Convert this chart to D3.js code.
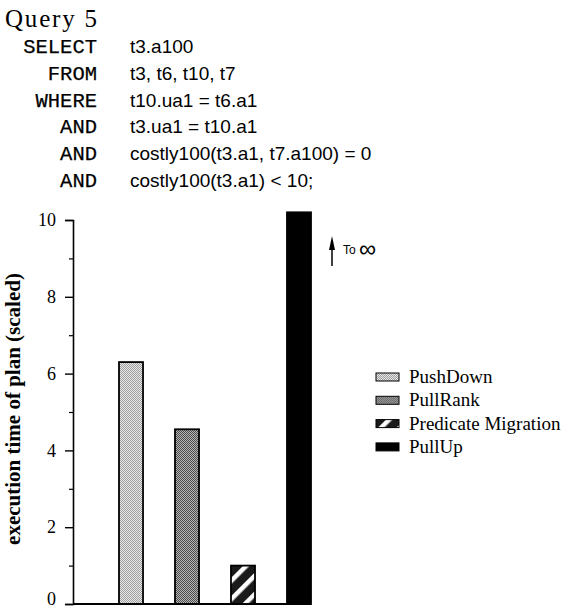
<!DOCTYPE html>
<html>
<head>
<meta charset="utf-8">
<script src="https://cdn.jsdelivr.net/npm/d3@7"></script>
<style>
  body { margin: 0; background: #fff; }
  svg { display: block; }
</style>
</head>
<body>
<svg id="chart" width="566" height="609"></svg>
<script>
// dados
let plans = ["PushDown", "PullRank", "Predicate Migration", "PullUp"];
let exec_time = [6.3, 4.55, 1.0, Infinity];   // PullUp vai ao infinito
let y_ticks = [0, 2, 4, 6, 8, 10];
let y_minor = [1, 3, 5, 7, 9];
let query_title = "Query 5";
let query_keywords = ["SELECT", "FROM", "WHERE", "AND", "AND", "AND"];
let query_clauses = [
  "t3.a100",
  "t3, t6, t10, t7",
  "t10.ua1 = t6.a1",
  "t3.ua1 = t10.a1",
  "costly100(t3.a1, t7.a100) = 0",
  "costly100(t3.a1) < 10;"
];
let y_label = "execution time of plan (scaled)";
let infinity_note = "To ";

let svg = d3.select("#chart");
let defs = svg.append("defs");

// padroes de preenchimento
function stipple(id, base, dot) {
  let p = defs.append("pattern")
    .attr("id", id)
    .attr("patternUnits", "userSpaceOnUse")
    .attr("width", 2).attr("height", 2);
  p.append("rect").attr("width", 2).attr("height", 2).attr("fill", base);
  p.append("rect").attr("width", 1).attr("height", 1).attr("fill", dot);
  p.append("rect").attr("x", 1).attr("y", 1).attr("width", 1).attr("height", 1).attr("fill", dot);
}
stipple("pat-pushdown", "#e6e6e6", "#a0a0a0");
stipple("pat-pullrank", "#b8b8b8", "#4a4a4a");

let hatch = defs.append("pattern")
  .attr("id", "pat-migration")
  .attr("patternUnits", "userSpaceOnUse")
  .attr("width", 13).attr("height", 13)
  .attr("patternTransform", "rotate(45)");
hatch.append("rect").attr("width", 13).attr("height", 13).attr("fill", "#1a1a1a");
hatch.append("rect").attr("width", 4.5).attr("height", 13).attr("fill", "#fff");

let fill = d3.scaleOrdinal()
  .domain(plans)
  .range(["url(#pat-pushdown)", "url(#pat-pullrank)", "url(#pat-migration)", "#000"]);

// cabecalho da consulta
svg.append("text")
  .attr("x", 5).attr("y", 27)
  .attr("font-family", "Liberation Serif, serif")
  .attr("font-size", 25)
  .attr("textLength", 92)
  .text(query_title);

let line_y = d3.scaleLinear().domain([0, 5]).range([53, 187]);

svg.append("g").selectAll("text")
  .data(query_keywords)
  .join("text")
    .attr("x", 97)
    .attr("y", (d, i) => line_y(i))
    .attr("text-anchor", "end")
    .attr("font-family", "Liberation Mono, monospace")
    .attr("font-size", 20.5)
    .attr("stroke", "#000")
    .attr("stroke-width", 0.25)
    .text(d => d);

svg.append("g").selectAll("text")
  .data(query_clauses)
  .join("text")
    .attr("x", 130)
    .attr("y", (d, i) => line_y(i))
    .attr("font-family", "Liberation Sans, sans-serif")
    .attr("font-size", 19)
    .text(d => d);

// escalas
let y = d3.scaleLinear().domain([0, 10]).range([604, 220]);
let x = d3.scaleBand()
  .domain(plans)
  .range([119, 311])
  .paddingInner(0.571)
  .paddingOuter(0);

let y_top = 10.2;   // onde a barra infinita e cortada

// barras
svg.append("g").selectAll("rect")
  .data(plans)
  .join("rect")
    .attr("x", d => x(d))
    .attr("width", x.bandwidth())
    .attr("y", (d, i) => y(Math.min(exec_time[i], y_top)))
    .attr("height", (d, i) => y(0) - y(Math.min(exec_time[i], y_top)))
    .attr("fill", d => fill(d))
    .attr("stroke", "#000")
    .attr("stroke-width", 1.8);

// eixo y
let y_axis = svg.append("g")
  .attr("transform", "translate(73,0)")
  .call(d3.axisLeft(y).tickValues(y_ticks).tickSize(8).tickPadding(9).tickFormat(d3.format("d")));
y_axis.select(".domain").attr("stroke-width", 1.6);
y_axis.selectAll(".tick line").attr("stroke-width", 1.4);
y_axis.selectAll("text")
  .attr("font-family", "Liberation Serif, serif")
  .attr("font-size", 18)
  .attr("dy", d => d == 0 ? "0em" : "0.32em");

svg.append("g")
  .attr("transform", "translate(73,0)")
  .call(d3.axisLeft(y).tickValues(y_minor).tickSize(4).tickFormat(""))
  .call(g => g.select(".domain").remove())
  .selectAll(".tick line").attr("stroke-width", 1.2);

// linha de base
svg.append("line")
  .attr("x1", 73).attr("x2", x.range()[1])
  .attr("y1", y(0)).attr("y2", y(0))
  .attr("stroke", "#000")
  .attr("stroke-width", 1.8);

svg.append("text")
  .attr("transform", "translate(20," + ((y(0) + y(10)) / 2 - 3) + ") rotate(-90)")
  .attr("text-anchor", "middle")
  .attr("font-family", "Liberation Serif, serif")
  .attr("font-weight", "bold")
  .attr("font-size", 21)
  .text(y_label);

// seta para o infinito
let arrow_x = x.range()[1] + 21;
svg.append("line")
  .attr("x1", arrow_x).attr("x2", arrow_x)
  .attr("y1", 266).attr("y2", 246)
  .attr("stroke", "#000")
  .attr("stroke-width", 1.5);
svg.append("path")
  .attr("d", d3.line()([[arrow_x - 3, 250], [arrow_x, 236], [arrow_x + 3, 250]]) + "Z")
  .attr("fill", "#000");

let note = svg.append("text")
  .attr("x", arrow_x + 11).attr("y", 254)
  .attr("font-family", "Liberation Sans, sans-serif")
  .attr("font-size", 12);
note.append("tspan").text(infinity_note);
note.append("tspan").attr("font-size", 24).attr("dy", 3).text("∞");

// legenda
let legend = svg.append("g").attr("transform", "translate(376,383)");
let leg = legend.selectAll("g")
  .data(plans)
  .join("g")
    .attr("transform", (d, i) => "translate(0," + i * 23.3 + ")");
leg.append("rect")
  .attr("y", -10).attr("width", 23).attr("height", 8)
  .attr("fill", d => fill(d))
  .attr("stroke", "#000")
  .attr("stroke-width", 1);
leg.append("text")
  .attr("x", 33)
  .attr("font-family", "Liberation Serif, serif")
  .attr("font-size", 19)
  .text(d => d);
</script>
</body>
</html>
